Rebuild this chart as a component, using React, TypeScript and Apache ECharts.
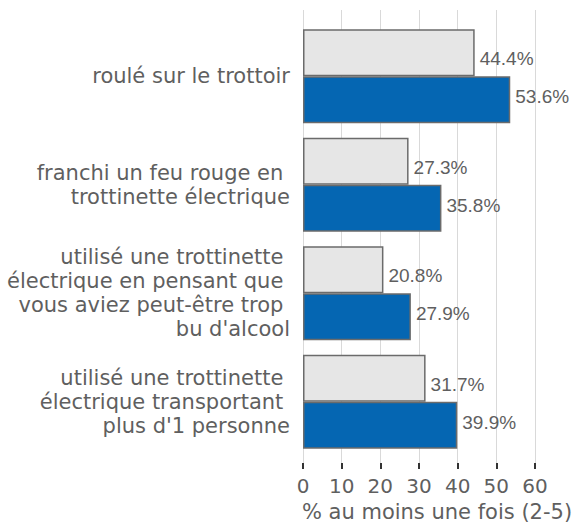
import React, { useEffect, useRef } from "react";
import * as echarts from "echarts";

const categories = [
  "roulé sur le trottoir",
  "franchi un feu rouge en \ntrottinette électrique",
  "utilisé une trottinette \nélectrique en pensant que \nvous aviez peut-être trop \nbu d'alcool",
  "utilisé une trottinette \nélectrique transportant \nplus d'1 personne",
];
const seriesGray = [44.4, 27.3, 20.8, 31.7];
const seriesBlue = [53.6, 35.8, 27.9, 39.9];
const axisName = "% au moins une fois (2-5)";
const xMin = 0;
const xMax = 60;
const xInterval = 10;

const TEXT = "#5f5f5f";
const CAT_FONT = "'DejaVu Sans', Verdana, sans-serif";
const VAL_FONT = "'Liberation Sans', Arial, sans-serif";

export default function App() {
  const ref = useRef<HTMLDivElement>(null);
  useEffect(() => {
    document.body.style.margin = "0";
    if (!ref.current) return;
    const chart = echarts.init(ref.current, undefined, { renderer: "svg" });
    const labelFmt = (p: any) => Number(p.value).toFixed(1) + "%";
    chart.setOption({
      animation: false,
      backgroundColor: "#ffffff",
      grid: [
        { left: 303, right: 44, top: 22, bottom: 71 },
        { left: 303, right: 44, top: 10, bottom: 61 },
      ],
      xAxis: [
        { type: "value", gridIndex: 0, min: xMin, max: xMax, interval: xInterval, show: false },
        {
          type: "value",
          gridIndex: 1,
          min: xMin,
          max: xMax,
          interval: xInterval,
          axisLine: { show: false },
          axisTick: { show: true, length: 6, lineStyle: { color: "#333333", width: 2 } },
          splitLine: { show: true, lineStyle: { color: "#d9d9d9", width: 1 } },
          axisLabel: { color: TEXT, fontFamily: CAT_FONT, fontSize: 20, margin: 13 },
          name: axisName,
          nameLocation: "middle",
          nameGap: 36,
          nameTextStyle: { color: TEXT, fontFamily: CAT_FONT, fontSize: 21, padding: [0, 0, 0, 36] },
        },
      ],
      yAxis: [
        {
          type: "category",
          gridIndex: 0,
          inverse: true,
          data: categories,
          axisLine: { show: false },
          axisTick: { show: false },
          splitLine: { show: false },
          axisLabel: {
            color: TEXT,
            fontFamily: CAT_FONT,
            fontSize: 21,
            lineHeight: 24,
            margin: 13,
            align: "right",
          },
        },
        { type: "value", gridIndex: 1, min: 0, max: 1, show: false },
      ],
      series: [
        {
          type: "bar",
          xAxisIndex: 0,
          yAxisIndex: 0,
          data: seriesGray,
          barWidth: 47,
          barGap: "0%",
          itemStyle: { color: "#e6e6e6", borderColor: "#6b6b6b", borderWidth: 1.5 },
          label: {
            show: true,
            position: "right",
            distance: 5,
            offset: [0, 6],
            formatter: labelFmt,
            color: TEXT,
            fontFamily: VAL_FONT,
            fontSize: 19,
          },
        },
        {
          type: "bar",
          xAxisIndex: 0,
          yAxisIndex: 0,
          data: seriesBlue,
          barWidth: 47,
          barGap: "0%",
          itemStyle: { color: "#0566b2", borderColor: "#6b6b6b", borderWidth: 1.5 },
          label: {
            show: true,
            position: "right",
            distance: 5,
            offset: [0, -3],
            formatter: labelFmt,
            color: TEXT,
            fontFamily: VAL_FONT,
            fontSize: 19,
          },
        },
      ],
    });
    return () => chart.dispose();
  }, []);
  return <div ref={ref} style={{ width: 579, height: 527 }} />;
}
